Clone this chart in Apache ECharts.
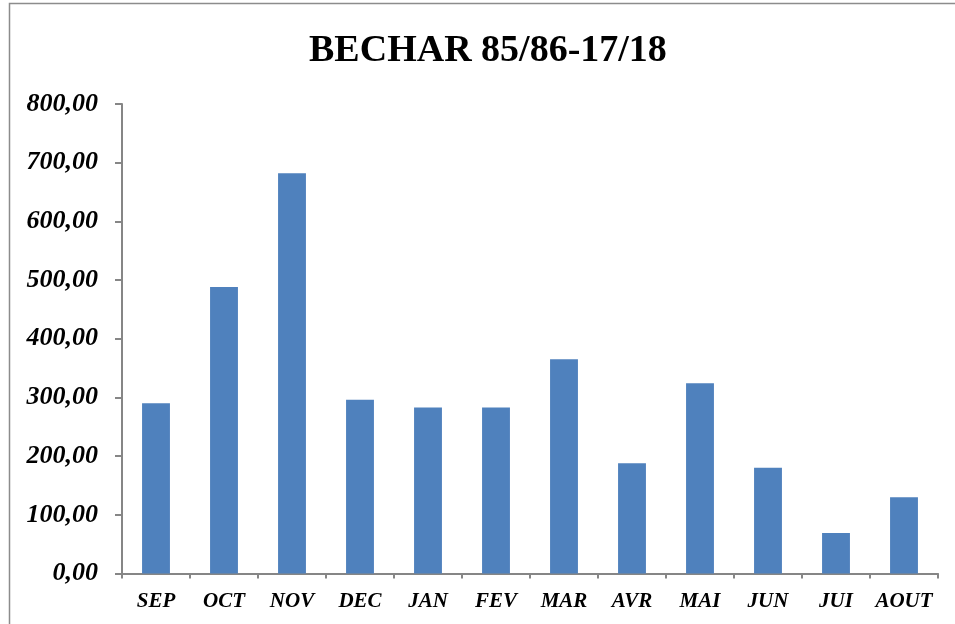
<!DOCTYPE html>
<html>
<head>
<meta charset="utf-8">
<script src="https://cdn.jsdelivr.net/npm/echarts@6/dist/echarts.min.js"></script>
<style>
  html, body { margin: 0; padding: 0; background: #fff; }
  #main { width: 955px; height: 624px; }
</style>
</head>
<body>
<div id="main"></div>
<script>
var months = ["SEP", "OCT", "NOV", "DEC", "JAN", "FEV", "MAR", "AVR", "MAI", "JUN", "JUI", "AOUT"];
var rainfall = [290, 488, 682, 296, 283, 283, 365, 188, 324, 180, 69, 130];
var yTicks = { min: 0, max: 800, step: 100 };

var chart = echarts.init(document.getElementById("main"));

chart.setOption({
    backgroundColor: "#fff",
    animation: false,
    title: {
        text: "BECHAR 85/86-17/18",
        left: 304,
        top: 27,
        textStyle: {
            fontFamily: "Liberation Serif",
            fontWeight: "bold",
            fontSize: 38,
            color: "#000"
        }
    },
    // cadre gris autour du graphique
    graphic: [{
        type: "rect",
        left: 7,
        top: 1,
        shape: { width: 980, height: 660 },
        style: { fill: "none", stroke: "#8c8c8c", lineWidth: 1.5 }
    }],
    grid: {
        left: 122,
        right: 17,
        top: 104,
        bottom: 50.5
    },
    xAxis: {
        type: "category",
        data: months,
        axisLine: { lineStyle: { color: "#868686", width: 2 } },
        axisTick: { show: true, length: 5, alignWithLabel: false, lineStyle: { color: "#868686", width: 2 } },
        axisLabel: {
            margin: 18,
            color: "#000",
            fontFamily: "Liberation Serif",
            fontStyle: "italic",
            fontWeight: "bold",
            fontSize: 21,
            interval: 0
        }
    },
    yAxis: {
        type: "value",
        min: yTicks.min,
        max: yTicks.max,
        interval: yTicks.step,
        splitLine: { show: false },
        axisLine: { show: true, lineStyle: { color: "#868686", width: 2 } },
        axisTick: { show: true, length: 7, lineStyle: { color: "#868686", width: 2 } },
        axisLabel: {
            margin: 24,
            color: "#000",
            fontFamily: "Liberation Serif",
            fontStyle: "italic",
            fontWeight: "bold",
            fontSize: 26,
            formatter: function (v) {
                return v.toFixed(2).replace(".", ",");
            }
        }
    },
    series: [{
        type: "bar",
        data: rainfall,
        barWidth: "41%",
        itemStyle: { color: "#4f81bd" }
    }]
});
</script>
</body>
</html>
